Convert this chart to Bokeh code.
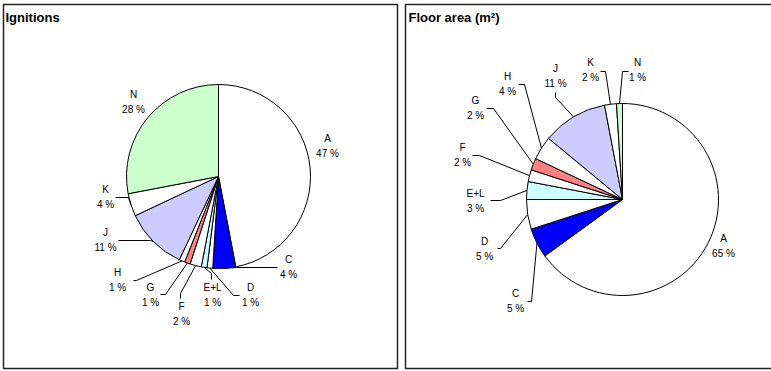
import math
from bokeh.plotting import figure
from bokeh.models import Range1d, ColumnDataSource
from bokeh.core.properties import value
from bokeh.embed import file_html
from bokeh.resources import INLINE

# --- data -------------------------------------------------------------
categories = ["A", "C", "D", "E+L", "F", "G", "H", "J", "K", "N"]
ignitions_pct = [47, 4, 1, 1, 2, 1, 1, 11, 4, 28]
floor_area_pct = [65, 5, 5, 3, 2, 2, 4, 11, 2, 1]
slice_colors = ["#FFFFFF", "#0000FF", "#FFFFFF", "#CCFFFF", "#FFFFFF",
                "#FF8080", "#FFFFFF", "#CCCCFF", "#FFFFFF", "#CCFFCC"]

# --- layout (page pixels, y measured from the top) ---------------------
W, H = 771, 371
FONT = "Liberation Sans"

panels = [
    dict(title="Ignitions", values=ignitions_pct, box=(3, 397, 4, 368),
         title_xy=(5, 17), center=(218, 176), r=92,
         labels={
             "A": (327, 138, []),
             "C": (288, 259, [(236, 267), (277, 267)]),
             "D": (250, 287, [(233, 295), (239, 295)]),
             "E+L": (212, 287, [(211, 273), (211, 279)]),
             "F": (181, 306, [(180, 293), (180, 298)]),
             "G": (150, 287, [(165, 294), (160, 294)]),
             "H": (117, 272, [(136, 280), (133, 280)]),
             "J": (105, 232, [(150, 240), (118, 240)]),
             "K": (105, 189, [(128, 197), (115, 197)]),
             "N": (133, 94, []),
         }),
    dict(title="Floor area (m\u00b2)", values=floor_area_pct, box=(405, 780, 4, 368),
         title_xy=(408, 17), center=(622, 199), r=96,
         labels={
             "A": (723, 238, []),
             "C": (515, 293, [(531, 301), (527, 301)]),
             "D": (484, 241, [(500, 248), (497, 248)]),
             "E+L": (475, 193, [(500, 200), (490, 200)]),
             "F": (462, 147, [(479, 155), (472, 155)]),
             "G": (475, 100, [(493, 108), (486, 108)]),
             "H": (507, 76, [(524, 84), (518, 84)]),
             "J": (555, 68, [(555, 97), (555, 92)]),
             "K": (590, 62, [(605, 71), (600, 71)]),
             "N": (637, 62, [(622, 71), (628, 71)]),
         }),
]

LINE_GAP = 14.5


def fy(y):
    """Convert a top-down pixel row into the plot's upward y coordinate."""
    return H - y


p = figure(width=W, height=H, x_range=Range1d(0, W), y_range=Range1d(0, H),
           min_border=0, x_axis_location=None, y_axis_location=None,
           toolbar_location=None, output_backend="svg")
p.outline_line_color = None
p.background_fill_color = "white"
p.border_fill_color = "white"
p.xgrid.visible = False
p.ygrid.visible = False

for panel in panels:
    # panel frame
    l, r_, t, b = panel["box"]
    p.quad(left=[l], right=[r_], top=[fy(t)], bottom=[fy(b)],
           fill_color=None, line_color="#222222", line_width=1.5)
    # panel title
    tx, ty = panel["title_xy"]
    p.text(x=[tx], y=[fy(ty)], text=[panel["title"]],
           text_font=value(FONT), text_font_size="13px",
           text_font_style="bold", text_align="left",
           text_baseline="middle", text_color="black")

    vals = panel["values"]
    total = float(sum(vals))
    cx, cy = panel["center"]
    rad = panel["r"]

    # slices run clockwise from twelve o'clock
    starts, ends, mids = [], [], []
    acc = 0.0
    for v in vals:
        a0 = acc / total * 2 * math.pi
        acc += v
        a1 = acc / total * 2 * math.pi
        starts.append(math.pi / 2 - a1)
        ends.append(math.pi / 2 - a0)
        mids.append((a0 + a1) / 2)

    src = ColumnDataSource(dict(start=starts, end=ends, color=slice_colors))
    p.wedge(x=cx, y=fy(cy), radius=rad, start_angle="start", end_angle="end",
            direction="anticlock", fill_color="color", line_color="black",
            line_width=1, source=src)

    # labels and leader lines
    lx_name, ly_name, lx_pct, ly_pct, names, pcts = [], [], [], [], [], []
    xs, ys = [], []
    for cat, v, mid in zip(categories, vals, mids):
        lx, ly, pts = panel["labels"][cat]
        names.append(cat)
        pcts.append(f"{v} %")
        lx_name.append(lx)
        ly_name.append(fy(ly))
        lx_pct.append(lx)
        ly_pct.append(fy(ly + LINE_GAP))
        if pts:
            sx = cx + rad * math.sin(mid)
            sy = cy - rad * math.cos(mid)
            xs.append([sx] + [q[0] for q in pts])
            ys.append([fy(sy)] + [fy(q[1]) for q in pts])

    p.multi_line(xs=xs, ys=ys, line_color="black", line_width=1)
    p.text(x=lx_name, y=ly_name, text=names, text_font=value(FONT),
           text_font_size="10px", text_align="center",
           text_baseline="middle", text_color="black")
    p.text(x=lx_pct, y=ly_pct, text=pcts, text_font=value(FONT),
           text_font_size="10px", text_align="center",
           text_baseline="middle", text_color="black")

open("out.html", "w").write(file_html(p, INLINE))
